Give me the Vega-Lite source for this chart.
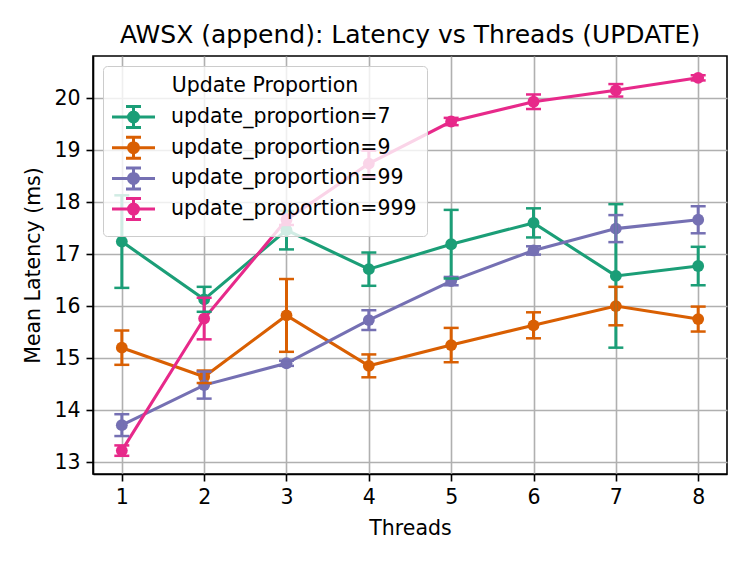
{
  "$schema": "https://vega.github.io/schema/vega-lite/v6.json",
  "width": 634,
  "height": 418,
  "autosize": {"type": "none"},
  "padding": {"left": 93, "top": 56, "right": 23, "bottom": 88},
  "background": "white",
  "config": {
    "font": "DejaVu Sans",
    "view": {"stroke": "#000000", "strokeWidth": 1.6},
    "axis": {
      "domainColor": "#000000", "domainWidth": 1.6,
      "tickColor": "#000000", "tickWidth": 1.6, "tickSize": 7,
      "labelFont": "DejaVu Sans", "labelFontSize": 20.5, "labelColor": "#000000", "labelPadding": 6,
      "titleFont": "DejaVu Sans", "titleFontSize": 20.5, "titleFontWeight": "normal", "titleColor": "#000000",
      "gridColor": "#b0b0b0", "gridWidth": 1.6, "gridOpacity": 1
    }
  },
  "title": {"text": "AWSX (append): Latency vs Threads (UPDATE)", "font": "DejaVu Sans", "fontSize": 25, "fontWeight": "normal", "color": "#000000", "anchor": "middle", "offset": 8},
  "data": {"values": [
    {"threads": 1, "series": "update_proportion=7", "mean": 17.24, "lo": 16.35, "hi": 18.13},
    {"threads": 2, "series": "update_proportion=7", "mean": 16.13, "lo": 15.89, "hi": 16.37},
    {"threads": 3, "series": "update_proportion=7", "mean": 17.46, "lo": 17.09, "hi": 17.83},
    {"threads": 4, "series": "update_proportion=7", "mean": 16.71, "lo": 16.39, "hi": 17.03},
    {"threads": 5, "series": "update_proportion=7", "mean": 17.19, "lo": 16.53, "hi": 17.85},
    {"threads": 6, "series": "update_proportion=7", "mean": 17.60, "lo": 17.32, "hi": 17.88},
    {"threads": 7, "series": "update_proportion=7", "mean": 16.58, "lo": 15.20, "hi": 17.96},
    {"threads": 8, "series": "update_proportion=7", "mean": 16.77, "lo": 16.40, "hi": 17.14},
    {"threads": 1, "series": "update_proportion=9", "mean": 15.20, "lo": 14.87, "hi": 15.53},
    {"threads": 2, "series": "update_proportion=9", "mean": 14.64, "lo": 14.52, "hi": 14.76},
    {"threads": 3, "series": "update_proportion=9", "mean": 15.82, "lo": 15.12, "hi": 16.52},
    {"threads": 4, "series": "update_proportion=9", "mean": 14.85, "lo": 14.63, "hi": 15.07},
    {"threads": 5, "series": "update_proportion=9", "mean": 15.25, "lo": 14.92, "hi": 15.58},
    {"threads": 6, "series": "update_proportion=9", "mean": 15.63, "lo": 15.38, "hi": 15.88},
    {"threads": 7, "series": "update_proportion=9", "mean": 16.00, "lo": 15.63, "hi": 16.37},
    {"threads": 8, "series": "update_proportion=9", "mean": 15.75, "lo": 15.51, "hi": 15.99},
    {"threads": 1, "series": "update_proportion=99", "mean": 13.71, "lo": 13.50, "hi": 13.92},
    {"threads": 2, "series": "update_proportion=99", "mean": 14.48, "lo": 14.22, "hi": 14.74},
    {"threads": 3, "series": "update_proportion=99", "mean": 14.90, "lo": 14.85, "hi": 14.95},
    {"threads": 4, "series": "update_proportion=99", "mean": 15.73, "lo": 15.54, "hi": 15.92},
    {"threads": 5, "series": "update_proportion=99", "mean": 16.48, "lo": 16.40, "hi": 16.56},
    {"threads": 6, "series": "update_proportion=99", "mean": 17.07, "lo": 16.99, "hi": 17.15},
    {"threads": 7, "series": "update_proportion=99", "mean": 17.49, "lo": 17.23, "hi": 17.75},
    {"threads": 8, "series": "update_proportion=99", "mean": 17.66, "lo": 17.40, "hi": 17.92},
    {"threads": 1, "series": "update_proportion=999", "mean": 13.22, "lo": 13.12, "hi": 13.32},
    {"threads": 2, "series": "update_proportion=999", "mean": 15.76, "lo": 15.36, "hi": 16.16},
    {"threads": 3, "series": "update_proportion=999", "mean": 17.66, "lo": 17.56, "hi": 17.76},
    {"threads": 4, "series": "update_proportion=999", "mean": 18.74, "lo": 18.49, "hi": 18.99},
    {"threads": 5, "series": "update_proportion=999", "mean": 19.55, "lo": 19.48, "hi": 19.62},
    {"threads": 6, "series": "update_proportion=999", "mean": 19.93, "lo": 19.79, "hi": 20.07},
    {"threads": 7, "series": "update_proportion=999", "mean": 20.15, "lo": 20.03, "hi": 20.27},
    {"threads": 8, "series": "update_proportion=999", "mean": 20.39, "lo": 20.34, "hi": 20.44}
  ]},
  "encoding": {
    "x": {"field": "threads", "type": "quantitative", "title": "Threads",
      "scale": {"domain": [0.65, 8.35], "nice": false, "zero": false},
      "axis": {"values": [1, 2, 3, 4, 5, 6, 7, 8], "format": "d", "titlePadding": 11, "labelFlush": false}},
    "color": {"field": "series", "type": "nominal",
      "scale": {"domain": ["update_proportion=7", "update_proportion=9", "update_proportion=99", "update_proportion=999"],
                "range": ["#1b9e77", "#d95f02", "#7570b3", "#e7298a"]},
      "legend": {
        "title": "Update Proportion", "orient": "none", "legendX": 10, "legendY": 10,
        "direction": "vertical",
        "titleFont": "DejaVu Sans", "titleFontSize": 20.5, "titleFontWeight": "normal", "titleColor": "#000000",
        "titleAnchor": "middle", "titleAlign": "center", "titlePadding": 9, "titleLimit": 0,
        "labelFont": "DejaVu Sans", "labelFontSize": 20.5, "labelColor": "#000000", "labelLimit": 0,
        "symbolType": "M-2.15,0H2.15M0,-1.05V1.05M-0.75,-1.05H0.75M-0.75,1.05H0.75M0.5,0A0.5,0.5 0 1,1 -0.5,0A0.5,0.5 0 1,1 0.5,0Z",
        "symbolSize": 400, "symbolStrokeWidth": 3, "symbolOffset": 9, "labelOffset": 26,
        "rowPadding": -2.3, "padding": 10,
        "fillColor": "rgba(255,255,255,0.8)", "strokeColor": "#cccccc", "cornerRadius": 4,
        "encode": {"symbols": {"update": {
          "fill": {"scale": "color", "field": "value"},
          "stroke": {"scale": "color", "field": "value"},
          "strokeWidth": {"value": 3},
          "opacity": {"value": 1}
        }}}
      }
    }
  },
  "layer": [
    {
      "mark": {"type": "line", "strokeWidth": 3.1},
      "encoding": {
        "y": {"field": "mean", "type": "quantitative", "title": "Mean Latency (ms)",
          "scale": {"domain": [12.77, 20.81], "nice": false, "zero": false},
          "axis": {"values": [13, 14, 15, 16, 17, 18, 19, 20], "titlePadding": 10}}
      }
    },
    {
      "mark": {"type": "point", "filled": true, "opacity": 1, "size": 140, "shape": "circle"},
      "encoding": {"y": {"field": "mean", "type": "quantitative"}}
    },
    {
      "mark": {"type": "rule", "strokeWidth": 3},
      "encoding": {"y": {"field": "lo", "type": "quantitative"}, "y2": {"field": "hi"}}
    },
    {
      "mark": {"type": "tick", "orient": "horizontal", "size": 15, "thickness": 2.5, "opacity": 1},
      "encoding": {"y": {"field": "hi", "type": "quantitative"}}
    },
    {
      "mark": {"type": "tick", "orient": "horizontal", "size": 15, "thickness": 2.5, "opacity": 1},
      "encoding": {"y": {"field": "lo", "type": "quantitative"}}
    }
  ]
}
